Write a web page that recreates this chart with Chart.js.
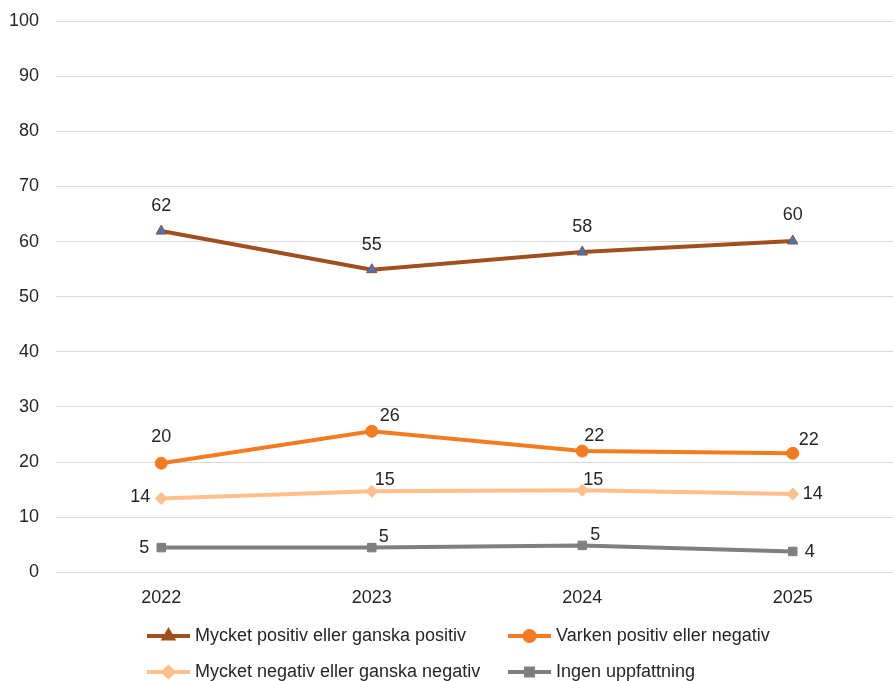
<!DOCTYPE html>
<html>
<head>
<meta charset="utf-8">
<script src="https://cdn.jsdelivr.net/npm/chart.js@4/dist/chart.umd.min.js"></script>
<style>
html,body{margin:0;padding:0;background:#fff;overflow:hidden}
#wrap{width:893px;height:681px;position:relative;overflow:hidden}
</style>
</head>
<body>
<div id="wrap"><canvas id="c" width="898" height="681"></canvas></div>
<script>
const years=['2022','2023','2024','2025'];
const positiv=[61.9,54.9,58.1,60.1];
const varken=[19.8,25.6,22.0,21.6];
const negativ=[13.4,14.7,14.9,14.2];
const ingen=[4.5,4.5,4.9,3.8];
const shown={positiv:[62,55,58,60],varken:[20,26,22,22],negativ:[14,15,15,14],ingen:[5,5,5,4]};
const names=['Mycket positiv eller ganska positiv','Varken positiv eller negativ','Mycket negativ eller ganska negativ','Ingen uppfattning'];

const FONT='"Liberation Sans", Arial, sans-serif';
const TXT='#262626';

// label offsets from the point (dx,dy) per series
const offs=[
  [[0,-25],[0,-25],[0,-25],[0,-26]],
  [[0,-26],[18,-15],[12,-15],[16,-13]],
  [[-21,-1],[13,-11],[11,-10],[20,0]],
  [[-17,0],[12,-11],[13,-10],[17,1]]
];
const lbls=[shown.positiv,shown.varken,shown.negativ,shown.ingen];

const labelPlugin={id:'lbl',afterDatasetsDraw(chart){
  const ctx=chart.ctx;ctx.save();
  ctx.font='18px '+FONT;ctx.fillStyle=TXT;ctx.textAlign='center';ctx.textBaseline='middle';
  chart.data.datasets.forEach((ds,i)=>{
    chart.getDatasetMeta(i).data.forEach((p,j)=>{
      ctx.fillText(String(lbls[i][j]),p.x+offs[i][j][0],p.y+offs[i][j][1]);
    });
  });
  ctx.restore();
}};

const legendPlugin={id:'leg',afterDraw(chart){
  const ctx=chart.ctx;ctx.save();
  const xs=[147,508],ys=[636,672];
  chart.data.datasets.forEach((ds,i)=>{
    const x=xs[i%2],y=ys[Math.floor(i/2)];
    ctx.strokeStyle=ds.borderColor;ctx.lineWidth=4;
    ctx.beginPath();ctx.moveTo(x,y);ctx.lineTo(x+43,y);ctx.stroke();
    ctx.fillStyle=ds.borderColor;ctx.strokeStyle=ds.borderColor;
    Chart.helpers.drawPoint(ctx,{pointStyle:ds.pointStyle,radius:ds.pointRadius-1,rotation:0,borderWidth:1},x+21.5,y);
    ctx.fillStyle=TXT;ctx.font='18px '+FONT;ctx.textAlign='left';ctx.textBaseline='middle';
    ctx.fillText(names[i],x+48,y);
  });
  ctx.restore();
}};

const mk=(label,data,color,style,r,fill)=>({label,data,borderColor:color,backgroundColor:color,
  pointBackgroundColor:fill||color,pointBorderColor:color,pointBorderWidth:1,pointStyle:style,
  pointRadius:r,borderWidth:4,tension:0});

new Chart(document.getElementById('c'),{
  type:'line',
  data:{labels:years,datasets:[
    mk(names[0],positiv,'#A0501E','triangle',6,'#4472C4'),
    mk(names[1],varken,'#F47B20','circle',6),
    mk(names[2],negativ,'#FFC08C','rectRot',6),
    mk(names[3],ingen,'#7F7F7F','rect',6)
  ]},
  options:{
    responsive:false,animation:false,
    layout:{autoPadding:false,padding:{top:21,left:-8,right:0,bottom:57}},
    plugins:{legend:{display:false},tooltip:{enabled:false}},
    scales:{
      x:{offset:true,grid:{display:false,drawTicks:false},border:{color:'#D9D9D9'},
        ticks:{padding:15,color:TXT,font:{size:18,family:FONT}},
        afterFit(s){s.paddingLeft=0;s.paddingRight=0;}},
      y:{min:0,max:100,grid:{color:'#D9D9D9',drawTicks:false},border:{display:false},
        ticks:{stepSize:10,padding:17,color:TXT,font:{size:18,family:FONT}},
        afterFit(s){s.paddingTop=0;s.paddingBottom=0;}}
    }
  },
  plugins:[labelPlugin,legendPlugin]
});
</script>
</body>
</html>
